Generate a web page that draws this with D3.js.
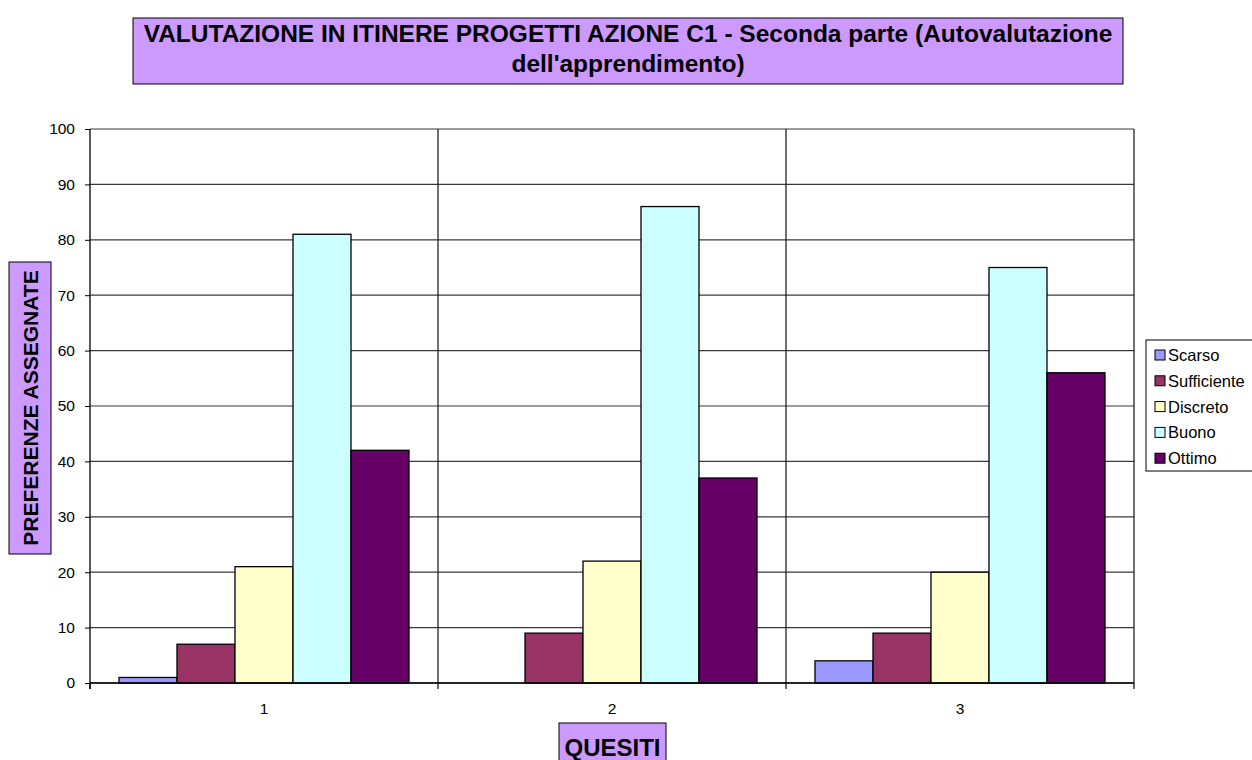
<!DOCTYPE html>
<html><head><meta charset="utf-8">
<script src="https://cdn.jsdelivr.net/npm/d3@7"></script>
<style>body{margin:0;background:#fff}svg{display:block;font-family:Arial,"Liberation Sans",sans-serif}</style>
</head><body>
<script>
const categories = ["1", "2", "3"];
const seriesNames = ["Scarso", "Sufficiente", "Discreto", "Buono", "Ottimo"];
const scarso = [1, 0, 4];
const sufficiente = [7, 9, 9];
const discreto = [21, 22, 20];
const buono = [81, 86, 75];
const ottimo = [42, 37, 56];
const seriesColors = ["#9999FF", "#993366", "#FFFFCC", "#CCFFFF", "#660066"];
const yTicks = [0, 10, 20, 30, 40, 50, 60, 70, 80, 90, 100];
const titleLines = ["VALUTAZIONE IN ITINERE PROGETTI AZIONE C1 - Seconda parte (Autovalutazione", "dell'apprendimento)"];
const yTitle = "PREFERENZE ASSEGNATE";
const xTitle = "QUESITI";

const series = [scarso, sufficiente, discreto, buono, ottimo];
const W = 1252, H = 760;
const FONT = "Arial, 'Liberation Sans', sans-serif";
const svg = d3.select("body").append("svg").attr("width", W).attr("height", H);
const L = 90, R = 1134, T = 129, B = 683;

const x = d3.scaleBand().domain(categories).range([L, R]).paddingInner(0).paddingOuter(0);
const xs = d3.scaleBand().domain(seriesNames).range([0, x.bandwidth()]).paddingOuter(0.5).paddingInner(0);
const y = d3.scaleLinear().domain([0, 100]).range([B, T]);

// horizontal gridlines
svg.append("g").selectAll("line").data(yTicks).join("line")
  .attr("x1", L).attr("x2", R).attr("y1", d => y(d)).attr("y2", d => y(d))
  .attr("stroke", "#3a3a3a").attr("stroke-width", 1.2);
// vertical category separators and right border
const vlines = categories.slice(1).map(c => x(c)).concat([R]);
svg.append("g").selectAll("line").data(vlines).join("line")
  .attr("x1", d => d).attr("x2", d => d)
  .attr("y1", T).attr("y2", B).attr("stroke", "#111").attr("stroke-width", 1.2);

// bars
const g = svg.append("g");
categories.forEach((c, ci) => {
  series.forEach((s, si) => {
    const v = s[ci];
    if (v <= 0) return;
    g.append("rect")
      .attr("x", x(c) + xs(seriesNames[si]))
      .attr("y", y(v))
      .attr("width", xs.bandwidth())
      .attr("height", y(0) - y(v))
      .attr("fill", seriesColors[si])
      .attr("stroke", "#000").attr("stroke-width", 1.3);
  });
});

// y axis
const ya = svg.append("g").attr("transform", `translate(${L},0)`)
  .call(d3.axisLeft(y).tickValues(yTicks).tickSize(5).tickPadding(10));
ya.select(".domain").attr("stroke", "#000").attr("stroke-width", 1.3).attr("d", `M0,${T}V${B+6}`);
ya.selectAll("line").attr("stroke", "#000");
ya.selectAll("text").attr("font-size", 15.5).attr("fill", "#000").style("font-family", FONT);

// x axis
const xa = svg.append("g").attr("transform", `translate(0,${B})`)
  .call(d3.axisBottom(x).tickSize(0).tickPadding(20));
xa.select(".domain").attr("stroke", "#000").attr("stroke-width", 1.3).attr("d", `M${L},0H${R}`);
xa.selectAll("text").attr("font-size", 15.5).attr("fill", "#000").style("font-family", FONT);
svg.append("g").selectAll("line").data([L].concat(vlines)).join("line")
  .attr("x1", d => d).attr("x2", d => d).attr("y1", B).attr("y2", B + 6)
  .attr("stroke", "#000").attr("stroke-width", 1.2);

// title box
svg.append("rect").attr("x", 133).attr("y", 18).attr("width", 990).attr("height", 66)
  .attr("fill", "#CC99FF").attr("stroke", "#000").attr("stroke-width", 1);
svg.append("g").selectAll("text").data(titleLines).join("text")
  .attr("x", 628).attr("y", (d, i) => 42 + i * 30)
  .attr("text-anchor", "middle").attr("font-size", 24.5).attr("font-weight", "bold").text(d => d);

// y title
svg.append("rect").attr("x", 9).attr("y", 262).attr("width", 42).attr("height", 292)
  .attr("fill", "#CC99FF").attr("stroke", "#000").attr("stroke-width", 1);
svg.append("text").attr("transform", "translate(38,408) rotate(-90)")
  .attr("text-anchor", "middle").attr("font-size", 21).attr("font-weight", "bold").text(yTitle);

// x title
svg.append("rect").attr("x", 559).attr("y", 723).attr("width", 107).attr("height", 42)
  .attr("fill", "#CC99FF").attr("stroke", "#000").attr("stroke-width", 1);
svg.append("text").attr("x", 612.5).attr("y", 756)
  .attr("text-anchor", "middle").attr("font-size", 24).attr("font-weight", "bold").text(xTitle);

// legend
svg.append("rect").attr("x", 1146).attr("y", 340).attr("width", 110).attr("height", 131)
  .attr("fill", "#fff").attr("stroke", "#000").attr("stroke-width", 1);
const lg = svg.append("g").selectAll("g").data(seriesNames).join("g")
  .attr("transform", (d, i) => `translate(1155,${355 + i * 25.8})`);
lg.append("rect").attr("x", 0).attr("y", -5).attr("width", 10).attr("height", 10)
  .attr("fill", (d, i) => seriesColors[i]).attr("stroke", "#000").attr("stroke-width", 1);
lg.append("text").attr("x", 13).attr("y", 6).attr("font-size", 16.5).text(d => d);
</script>
</body></html>
